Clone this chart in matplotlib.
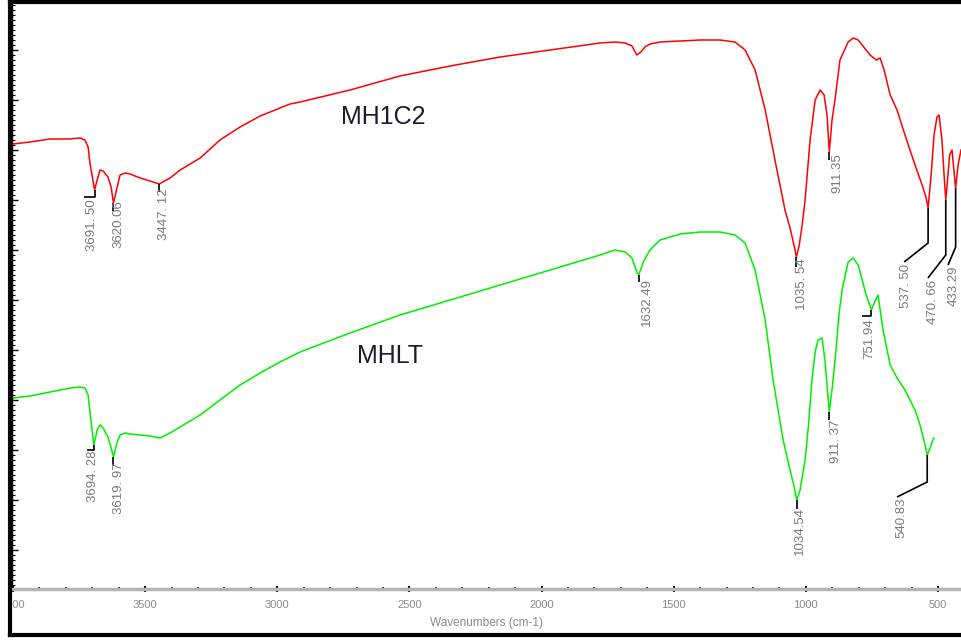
import matplotlib
matplotlib.use("Agg")
import matplotlib.pyplot as plt
from matplotlib.lines import Line2D
from matplotlib.patches import Rectangle
from matplotlib.ticker import MultipleLocator

plt.rcParams['font.family'] = ['Liberation Sans', 'DejaVu Sans']

# ---------------- data (wavenumber cm-1, arbitrary %T) ----------------
red_wn = [4000, 3936, 3860, 3784, 3746, 3728, 3716, 3709, 3698, 3691.5, 3682, 3671, 3659,
          3641, 3629, 3620.06, 3606, 3595, 3576, 3557, 3519, 3482, 3447.12, 3406, 3368,
          3292, 3217, 3141, 3065, 2990, 2952, 2914, 2725, 2536, 2346, 2157, 1968, 1779,
          1722, 1684, 1658, 1640, 1624, 1609, 1590, 1552, 1476, 1400, 1325, 1268, 1230,
          1192, 1154, 1117, 1079, 1060, 1045, 1035.54, 1025, 1014, 1003, 984, 965, 946,
          931, 920, 911.35, 901, 890, 871, 840, 821, 802, 787, 757, 734, 719, 704, 681,
          655, 625, 587, 560, 545, 537.5, 526, 515, 504, 496, 485, 477, 470.66, 464,
          456, 447, 440, 433.29, 424, 413]
red_T = [45.6, 45.8, 46.1, 46.1, 46.2, 46.0, 45.3, 43.7, 42.0, 41.0, 42.0, 43.0, 42.9,
         42.3, 41.3, 39.7, 41.3, 42.5, 42.7, 42.6, 42.2, 41.9, 41.6, 42.2, 43.0,
         44.2, 46.0, 47.3, 48.4, 49.2, 49.6, 49.8, 51.0, 52.4, 53.4, 54.3, 55.0, 55.7,
         55.8, 55.7, 55.4, 54.5, 54.8, 55.3, 55.6, 55.8, 55.9, 56.0, 56.0, 55.8, 55.0,
         53.0, 49.0, 44.0, 39.0, 37.2, 35.5, 34.3, 35.5, 37.5, 40.0, 46.0, 50.0, 51.0,
         50.5, 48.5, 44.8, 48.0, 50.0, 54.0, 55.8, 56.2, 56.0, 55.5, 54.5, 54.0, 54.2, 53.0, 50.5,
         49.0, 46.5, 43.5, 41.5, 40.2, 39.2, 42.5, 46.5, 48.3, 48.5, 46.0, 42.5, 40.0, 42.0,
         44.5, 45.0, 43.0, 41.2, 43.5, 45.0]

green_wn = [4000, 3936, 3860, 3784, 3746, 3728, 3716, 3709, 3700, 3694.28, 3682, 3671, 3659,
            3641, 3629, 3619.97, 3606, 3595, 3576, 3557, 3519, 3482, 3444, 3406, 3368,
            3292, 3217, 3141, 3065, 2990, 2914, 2725, 2536, 2346, 2157, 1968, 1779,
            1722, 1684, 1658, 1640, 1632.49, 1615, 1590, 1552, 1476, 1400, 1325, 1268, 1230,
            1192, 1154, 1124, 1086, 1060, 1045, 1034.54, 1022, 1003, 990, 977, 965, 954,
            939, 928, 920, 911.37, 899, 886, 875, 863, 840, 821, 802, 787, 772, 751.94,
            740, 727, 708, 681, 655, 625, 587, 568, 549, 540.83, 530, 522, 515]
green_T = [20.2, 20.4, 20.8, 21.2, 21.3, 21.2, 20.5, 18.8, 16.8, 15.5, 17.0, 17.5, 17.2,
           16.3, 15.2, 14.3, 15.8, 16.5, 16.7, 16.6, 16.5, 16.4, 16.2, 16.7, 17.3,
           18.5, 20.0, 21.5, 22.7, 23.8, 24.8, 26.7, 28.5, 30.0, 31.5, 33.0, 34.5,
           35.0, 34.8, 34.2, 32.8, 32.5, 33.8, 35.0, 36.0, 36.6, 36.8, 36.8, 36.5, 35.7,
           33.0, 28.0, 22.0, 16.0, 13.0, 11.4, 10.0, 11.0, 14.0, 17.5, 22.0, 24.8, 26.0,
           26.2, 24.0, 21.5, 18.8, 21.5, 25.0, 28.5, 31.0, 33.8, 34.2, 33.5, 32.0, 30.5, 29.0,
           29.8, 30.5, 27.0, 23.5, 22.2, 21.0, 19.0, 17.5, 15.5, 14.5, 15.2, 15.8, 16.2]

red_name = "MH1C2"
green_name = "MHLT"

red_peaks = [3691.50, 3620.06, 3447.12, 1035.54, 911.35, 537.50, 470.66, 433.29]
red_peak_T = [41.0, 39.7, 41.6, 34.3, 44.8, 39.2, 40.0, 41.2]
red_peak_labels = ["3691. 50", "3620.06", "3447. 12", "1035. 54", "911.35",
                   "537. 50", "470. 66", "433.29"]

green_peaks = [3694.28, 3619.97, 1632.49, 1034.54, 911.37, 751.94, 540.83]
green_peak_T = [15.5, 14.3, 32.5, 10.0, 18.8, 29.0, 14.5]
green_peak_labels = ["3694. 28", "3619. 97", "1632.49", "1034.54", "911. 37",
                     "751.94", "540.83"]

x_ticks = [4000, 3500, 3000, 2500, 2000, 1500, 1000, 500]
x_label = "Wavenumbers (cm-1)"

# ---------------- layout (leader bends and label anchors) ----------------
# each: (leader points after the peak point, text anchor (wn, T))
red_layout = [
    ([(3691.5, 40.3), (3731, 40.3)], (3701, 40.1)),
    ([(3620.06, 38.9)], (3603, 40.0)),
    ([(3447.12, 40.8)], (3429, 41.2)),
    ([(1035.54, 33.3)], (1014, 34.2)),
    ([(911.35, 44.0)], (882, 44.7)),
    ([(537.5, 35.7), (628, 33.8)], (621, 33.6)),
    ([(470.66, 34.5), (538, 32.2)], (519, 32.0)),
    ([(433.29, 35.3), (462, 33.5)], (439, 33.4)),
]
green_layout = [
    ([(3694.28, 15.0), (3720, 15.0)], (3697, 14.9)),
    ([(3619.97, 13.4)], (3599, 13.8)),
    ([(1632.49, 31.8)], (1601, 32.2)),
    ([(1034.54, 9.1)], (1022, 9.3)),
    ([(911.37, 18.0)], (886, 18.0)),
    ([(751.94, 28.4), (787, 28.4)], (761, 28.2)),
    ([(540.83, 11.8), (655, 10.3)], (640, 10.3)),
]

W, H = 961, 641
fig = plt.figure(figsize=(W / 100, H / 100), dpi=100)
fig.patch.set_facecolor("white")
ax = fig.add_axes([12 / W, 52 / H, 949 / W, 588 / H])

ax.plot(red_wn, red_T, color="#ff0000", lw=1.1)
ax.plot(green_wn, green_T, color="#00ee00", lw=1.1)

label_color = "#7a7a7a"
for peaks, vals, labels, layout in [(red_peaks, red_peak_T, red_peak_labels, red_layout),
                                    (green_peaks, green_peak_T, green_peak_labels, green_layout)]:
    for p, v, lab, (pts, anchor) in zip(peaks, vals, labels, layout):
        xs = [p] + [q[0] for q in pts]
        ys = [v] + [q[1] for q in pts]
        ax.plot(xs, ys, color="black", lw=1.2, solid_capstyle="butt")
        ax.text(anchor[0], anchor[1], lab, rotation=90, ha="center", va="top",
                fontsize=9.5, color=label_color)

ax.text(2600, 48.3, red_name, fontsize=18, color="#1c1c30", ha="center", va="center")
ax.text(2573, 24.4, green_name, fontsize=18, color="#1c1c30", ha="center", va="center")

ax.set_xlim(4004, 413)
ax.set_ylim(1.1, 59.9)
ax.set_xticks(x_ticks)
ax.set_xticklabels([str(t) for t in x_ticks])
ax.xaxis.set_minor_locator(MultipleLocator(100))
ax.yaxis.set_major_locator(MultipleLocator(5))
ax.yaxis.set_minor_locator(MultipleLocator(0.5))
ax.tick_params(axis="x", which="major", direction="inout", length=4, width=1.5,
               colors="black", labelcolor="#8a8a8a", labelsize=8, pad=6)
ax.tick_params(axis="x", which="minor", direction="inout", length=2.5, width=1.2, colors="black")
ax.tick_params(axis="y", which="major", direction="in", length=4, width=1, labelleft=False)
ax.tick_params(axis="y", which="minor", direction="in", length=2, width=0.8)
ax.set_xlabel(x_label, fontsize=8.5, color="#8a8a8a", labelpad=5)

for s in ["top", "right"]:
    ax.spines[s].set_visible(False)
ax.spines["bottom"].set_color("#b4b4b4")
ax.spines["bottom"].set_linewidth(2.5)
ax.spines["left"].set_color("black")
ax.spines["left"].set_linewidth(1)

# white margin left of the frame and the outer black frame
fig.add_artist(Rectangle((0, 0), 10 / W, 1, transform=fig.transFigure,
                         facecolor="white", edgecolor="none", zorder=10))
bw = 3.0
fx0 = 10 / W
fy_top = 1 - 1.5 / H
fy_bot = 1 - 635 / H
for (x0, y0, x1, y1) in [(fx0, fy_top, fx0, fy_bot), (fx0, fy_top, 1.0, fy_top),
                         (fx0, fy_bot, 1.0, fy_bot)]:
    fig.add_artist(Line2D([x0, x1], [y0, y1], transform=fig.transFigure,
                          color="black", lw=bw, solid_capstyle="projecting", zorder=11))

fig.savefig("out.png", dpi=100, facecolor="white")
